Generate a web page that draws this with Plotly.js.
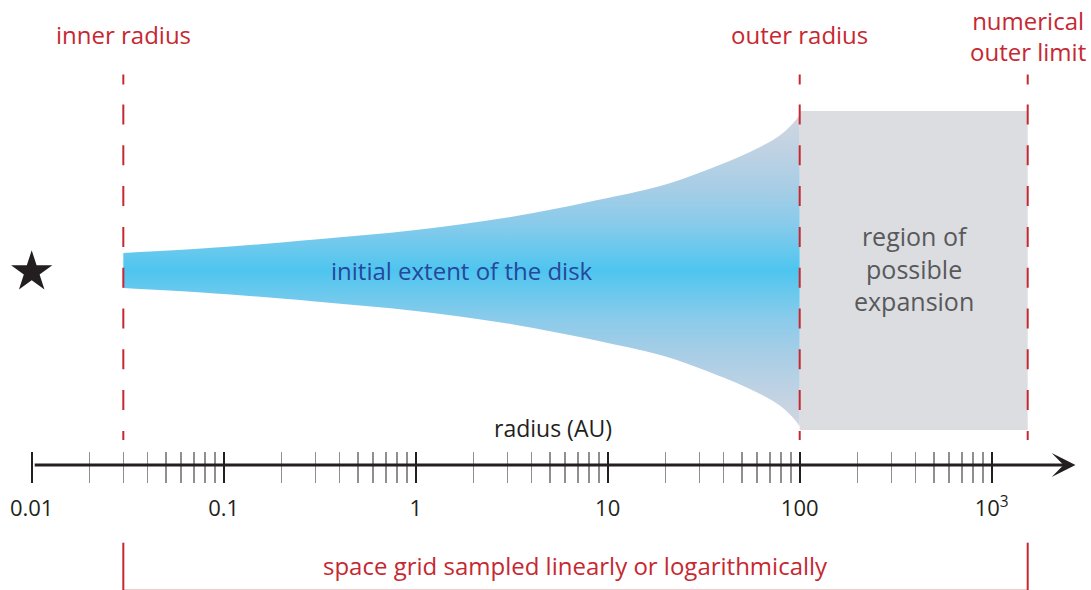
<!DOCTYPE html>
<html><head><meta charset="utf-8">
<script src="https://cdn.plot.ly/plotly-3.0.1.min.js"></script>
<style>html,body{margin:0;padding:0;background:#fff}#chart{width:1091px;height:590px}</style>
</head><body><div id="chart"></div>
<script>
// ---- data ----
const majorTicks = [0.01, 0.1, 1, 10, 100, 1000];
const majorTickText = ['0.01', '0.1', '1', '10', '100', '10<sup>3</sup>'];
const minorTicks = [0.02, 0.03, 0.04, 0.05, 0.06, 0.07, 0.08, 0.09,
                    0.2, 0.3, 0.4, 0.5, 0.6, 0.7, 0.8, 0.9,
                    2, 3, 4, 5, 6, 7, 8, 9,
                    20, 30, 40, 50, 60, 70, 80, 90,
                    200, 300, 400, 500, 600, 700, 800, 900];
// disk flaring profile: radius (AU) vs half thickness (schematic units)
const diskRadius     = [0.03, 0.1, 0.3, 1, 3, 10, 20, 40, 60, 80, 95, 100];
const diskHalfHeight = [17.5, 23.5, 31, 40.5, 53, 72.5, 86, 107, 122, 136, 150, 156];
const boundaryRadius = [0.03, 100, 1540];
const boundaryLabel  = ['inner radius', 'outer radius', 'numerical<br>outer limit'];
const expansionRadius = [100, 1540];
const expansionHalfHeight = 159.5;
const starRadius = 0.01;
const axisStart = 0.01;
const axisEnd = 2730;

// ---- styles ----
const RED = '#c62832', INK = '#231f20', FONT = 'Open Sans';
const Y_TOP = 270.5, Y_BOT = -319.5;
const AXIS_Y = -194.5;

const traces = [];
// region of possible expansion
traces.push({
  x: [expansionRadius[0], expansionRadius[1], expansionRadius[1], expansionRadius[0], expansionRadius[0]],
  y: [expansionHalfHeight, expansionHalfHeight, -expansionHalfHeight, -expansionHalfHeight, expansionHalfHeight],
  mode: 'lines', fill: 'toself', fillcolor: '#dcdde0', line: {width: 0}, hoverinfo: 'skip'
});
// disk: lower edge then upper edge filled to it
traces.push({
  x: diskRadius, y: diskHalfHeight.map(v => -v), mode: 'lines',
  line: {width: 0, shape: 'spline', smoothing: 1}, hoverinfo: 'skip'
});
traces.push({
  x: diskRadius, y: diskHalfHeight, mode: 'lines',
  line: {width: 0, shape: 'spline', smoothing: 1}, hoverinfo: 'skip',
  fill: 'tonexty',
  fillgradient: {
    type: 'vertical', start: -157, stop: 157,
    colorscale: [[0, '#d3d6e0'], [0.15, '#b9d1e4'], [0.245, '#a5cde6'], [0.34, '#8ccbea'],
                 [0.446, '#64c8ee'], [0.5, '#4dc5ef'], [0.554, '#64c8ee'], [0.66, '#8ccbea'],
                 [0.755, '#a5cde6'], [0.85, '#b9d1e4'], [1, '#d3d6e0']]
  }
});
// red dashed boundary lines
boundaryRadius.forEach(r => {
  traces.push({
    x: [r, r, null, r, r], y: [196, 186, null, 166, -169.5], mode: 'lines',
    line: {color: RED, width: 2, dash: '20px,20.8px'}, hoverinfo: 'skip'
  });
});
// bracket of the space grid
traces.push({
  x: [boundaryRadius[0], boundaryRadius[0]], y: [-272.2, Y_BOT], mode: 'lines',
  line: {color: RED, width: 2}, hoverinfo: 'skip'
});
traces.push({
  x: [boundaryRadius[2], boundaryRadius[2]], y: [-272.2, Y_BOT], mode: 'lines',
  line: {color: RED, width: 2}, hoverinfo: 'skip'
});
traces.push({
  x: [boundaryRadius[0], boundaryRadius[2]], y: [-319.3, -319.3], mode: 'lines',
  line: {color: 'rgba(198,40,50,0.35)', width: 1}, hoverinfo: 'skip'
});
// star
traces.push({
  x: [starRadius], y: [-1.5], mode: 'markers',
  marker: {symbol: 'star', size: 31, color: INK, line: {width: 0}}, hoverinfo: 'skip'
});

const L = Math.log10;
const annotations = [];
boundaryRadius.forEach((r, i) => {
  annotations.push({
    x: L(r), y: i === 2 ? 235 : 236, xref: 'x', yref: 'y', text: boundaryLabel[i], showarrow: false,
    font: {family: FONT, size: 24, color: RED}, xanchor: 'center', yanchor: 'middle'
  });
});
annotations.push({
  x: (L(diskRadius[0]) + L(diskRadius[diskRadius.length - 1])) / 2, y: 0, xref: 'x', yref: 'y',
  text: 'initial extent of the disk', showarrow: false,
  font: {family: FONT, size: 24, color: '#27479b'}
});
annotations.push({
  x: (L(expansionRadius[0]) + L(expansionRadius[1])) / 2, y: 2, xref: 'x', yref: 'y',
  text: 'region of<br>possible<br>expansion', showarrow: false,
  font: {family: FONT, size: 25, color: '#58595b'}
});
annotations.push({
  x: 553 / 1091, y: -157.5, xref: 'paper', yref: 'y', text: 'radius (AU)', showarrow: false,
  font: {family: FONT, size: 23, color: INK}
});
annotations.push({
  x: (L(boundaryRadius[0]) + L(boundaryRadius[2])) / 2, y: -294.5, xref: 'x', yref: 'y',
  text: 'space grid sampled linearly or logarithmically', showarrow: false,
  font: {family: FONT, size: 24, color: RED}
});
// the radius axis line with its arrow
annotations.push({
  x: L(axisEnd), y: AXIS_Y, xref: 'x', yref: 'y',
  ax: L(axisStart), ay: AXIS_Y, axref: 'x', ayref: 'y',
  text: ' ', showarrow: true, arrowhead: 3, arrowsize: 1.32, arrowwidth: 3, arrowcolor: INK,
  standoff: 0, startstandoff: 0
});

const layout = {
  width: 1091, height: 590, margin: {l: 0, r: 0, t: 0, b: 0},
  paper_bgcolor: '#ffffff', plot_bgcolor: '#ffffff', showlegend: false,
  xaxis: {
    type: 'log', range: [-2.1651, 3.5172], anchor: 'free', position: 1 - 450.5 / 590,
    showline: false, showgrid: false, zeroline: false, fixedrange: true,
    tickmode: 'array', tickvals: majorTicks, ticktext: majorTickText,
    ticks: 'outside', ticklen: 31, tickwidth: 2, tickcolor: INK,
    tickfont: {family: FONT, size: 22, color: INK}, ticklabelstandoff: 7,
    minor: {tickmode: 'array', tickvals: minorTicks, ticks: 'outside', ticklen: 31,
            tickwidth: 1.5, tickcolor: '#8f8f8f', showgrid: false}
  },
  yaxis: {range: [Y_BOT, Y_TOP], visible: false, fixedrange: true},
  annotations: annotations
};

Plotly.newPlot('chart', traces, layout, {displayModeBar: false, staticPlot: true});
</script></body></html>
